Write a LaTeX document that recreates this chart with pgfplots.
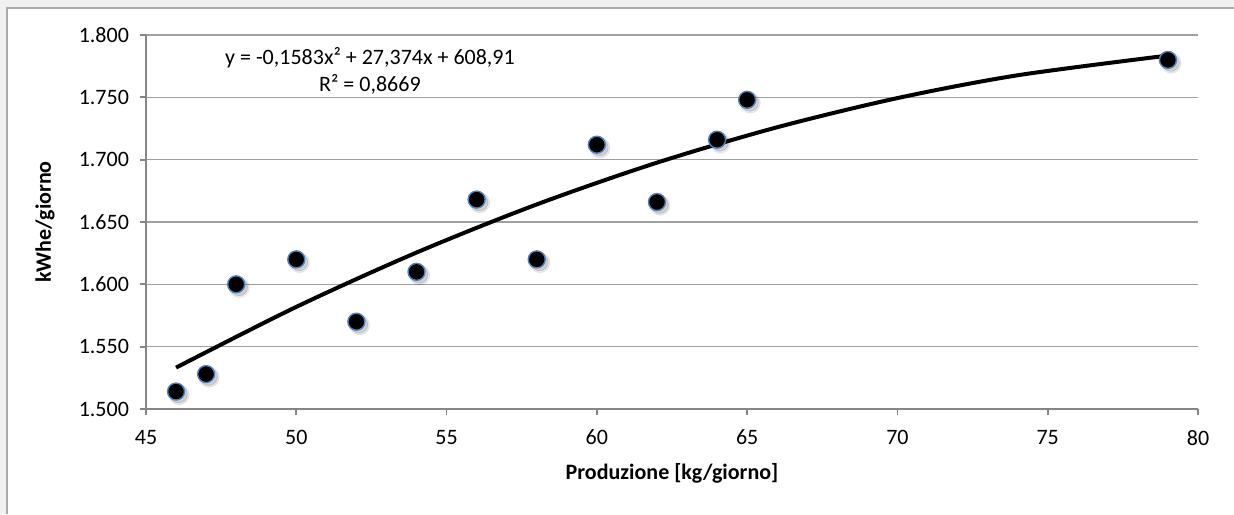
\documentclass[border=0pt]{standalone}
\usepackage{pgfplots}
\pgfplotsset{compat=1.18}
\usepackage{fontspec}
\setmainfont{Carlito}

\definecolor{bggray}{RGB}{240,240,240}
\definecolor{framegray}{RGB}{170,170,170}
\definecolor{gridgray}{RGB}{160,160,160}
\definecolor{axisgray}{RGB}{134,134,134}
\definecolor{mkblue}{RGB}{79,129,189}

\begin{document}
\begin{tikzpicture}
% sfondo e cornice (1px = 0.5pt)
\useasboundingbox (0,0) rectangle (617pt,257pt);
\fill[bggray] (0,0) rectangle (617pt,257pt);
\fill[white] (3.5pt,0) rectangle (617pt,253pt);
\draw[framegray,line width=0.75pt] (3.5pt,0) -- (3.5pt,253pt) -- (617pt,253pt);

\begin{axis}[
  at={(73pt,52.5pt)}, anchor=south west,
  scale only axis, width=526pt, height=187pt,
  xmin=45, xmax=80, ymin=1500, ymax=1800,
  xtick={45,50,...,80}, ytick={1500,1550,...,1800},
  axis x line*=bottom, axis y line*=left,
  axis line style={axisgray,line width=0.9pt},
  tick align=outside, major tick length=3pt,
  tick style={axisgray,line width=0.9pt},
  ymajorgrids, grid style={gridgray,line width=0.8pt},
  ticklabel style={font=\fontsize{11}{13}\selectfont},
  /pgf/number format/.cd, assume math mode=true, 1000 sep={.}, fixed, precision=0,
  /pgfplots/.cd,
  yticklabel style={xshift=-2pt},
  xticklabel style={yshift=-4pt},
  every axis x label/.style={at={(axis description cs:0.5,0)},yshift=-32pt,anchor=center},
  every axis y label/.style={at={(axis description cs:0,0.5)},xshift=-50.5pt,rotate=90,anchor=center},
  xlabel={\fontsize{11}{13}\selectfont\bfseries Produzione [kg/giorno]},
  ylabel={\fontsize{11}{13}\selectfont\bfseries kWhe/giorno},
  clip=false,
]
% ombra dei punti (due strati per sfumare)
\addplot[only marks, mark=*, mark size=5pt, color=black, opacity=0.07,
  every mark/.append style={xshift=1.6pt,yshift=-1.6pt}] table[row sep=crcr]{
x y\\ 46 1514\\ 47 1528\\ 48 1600\\ 50 1620\\ 52 1570\\ 54 1610\\ 56 1668\\
58 1620\\ 60 1712\\ 62 1666\\ 64 1716\\ 65 1748\\ 79 1780\\
};
\addplot[only marks, mark=*, mark size=4.3pt, color=black, opacity=0.12,
  every mark/.append style={xshift=1.4pt,yshift=-1.4pt}] table[row sep=crcr]{
x y\\ 46 1514\\ 47 1528\\ 48 1600\\ 50 1620\\ 52 1570\\ 54 1610\\ 56 1668\\
58 1620\\ 60 1712\\ 62 1666\\ 64 1716\\ 65 1748\\ 79 1780\\
};
% linea di tendenza polinomiale
\addplot[black, line width=2pt, smooth] table[row sep=crcr]{
x y\\ 46 1533.2\\ 50 1581.9\\ 54 1625.5\\ 58 1664.1\\ 62 1697.6\\ 66 1726.0\\ 70 1749.4\\ 74 1767.7\\ 79 1783.5\\
};
% dati
\addplot[only marks, mark=*, mark size=4.25pt, mark options={draw=mkblue,fill=black,line width=0.7pt}] table[row sep=crcr]{
x y\\ 46 1514\\ 47 1528\\ 48 1600\\ 50 1620\\ 52 1570\\ 54 1610\\ 56 1668\\
58 1620\\ 60 1712\\ 62 1666\\ 64 1716\\ 65 1748\\ 79 1780\\
};
\node[font=\fontsize{11}{13}\selectfont] at (axis cs:52.45,1781.5) {y = -0,1583x² + 27,374x + 608,91};
\node[font=\fontsize{11}{13}\selectfont] at (axis cs:52.45,1760) {R² = 0,8669};
\end{axis}
\end{tikzpicture}
\end{document}
